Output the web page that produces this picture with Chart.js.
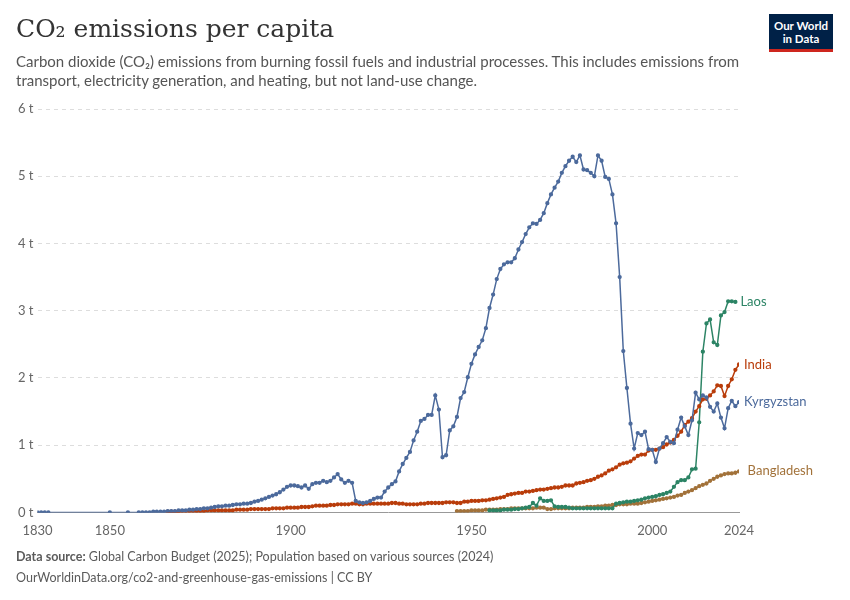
<!DOCTYPE html>
<html><head><meta charset="utf-8">
<script src="https://cdn.jsdelivr.net/npm/chart.js@4"></script>
<style>
body{margin:0;background:#fff;font-family:Lato,sans-serif;}
#wrap{position:relative;width:850px;height:600px;}
#c{position:absolute;left:0;top:0;}
.t{position:absolute;left:16px;top:14px;font-family:"DejaVu Serif",serif;font-size:25px;color:#333;}
.s{position:absolute;left:16px;top:52px;width:740px;font-size:15px;line-height:19px;color:#555;}
.f{position:absolute;left:16px;font-size:12.5px;color:#5b5b5b;}
.logo{position:absolute;left:769px;top:14px;width:64px;height:38px;background:#002147;color:#fff;font-size:11.5px;font-weight:bold;text-align:center;line-height:13px;padding-top:5px;box-sizing:border-box;border-bottom:3px solid #ce261e;}
</style></head><body>
<div id="wrap">
<canvas id="c" width="850" height="600"></canvas>
<div class="t">CO₂ emissions per capita</div>
<div class="s">Carbon dioxide (CO₂) emissions from burning fossil fuels and industrial processes. This includes emissions from transport, electricity generation, and heating, but not land-use change.</div>
<div class="logo">Our World<br>in Data</div>
<div class="f" style="top:549px"><b>Data source:</b> Global Carbon Budget (2025); Population based on various sources (2024)</div>
<div class="f" style="top:570px">OurWorldinData.org/co2-and-greenhouse-gas-emissions | CC BY</div>
</div>
<script>
const xTicks=[1830,1850,1900,1950,2000,2024];
const yTicks=[0,1,2,3,4,5,6];
const kgEarlyYears=[1830,1831,1832,1833,1850,1855];
const kgEarlyValues=[0,0,0,0,0,0];
const kgStart=1858;
const kgValues=[0,0,0,0,0.01,0.01,0.01,0.01,0.02,0.02,0.02,0.03,
0.03,0.03,0.04,0.04,0.05,0.05,0.06,0.06,0.07,0.08,
0.09,0.09,0.10,0.10,0.11,0.12,0.12,0.13,0.13,0.14,
0.16,0.17,0.19,0.21,0.23,0.25,0.27,0.30,0.34,0.38,
0.40,0.40,0.39,0.37,0.40,0.35,0.42,0.44,0.44,0.47,
0.45,0.47,0.52,0.57,0.49,0.44,0.47,0.44,0.17,0.15,
0.14,0.15,0.17,0.20,0.22,0.22,0.31,0.37,0.42,0.46,
0.61,0.72,0.81,0.90,1.07,1.20,1.36,1.39,1.45,1.45,
1.74,1.53,0.82,0.85,1.22,1.28,1.42,1.70,1.79,2.01,
2.21,2.35,2.46,2.56,2.74,3.04,3.24,3.47,3.62,3.69,
3.72,3.72,3.78,3.91,4.02,4.14,4.24,4.30,4.29,4.35,
4.45,4.60,4.73,4.83,4.92,5.05,5.15,5.23,5.29,5.21,
5.31,5.10,5.09,5.05,5.00,5.31,5.23,4.99,4.96,4.73,
4.30,3.50,2.40,1.85,1.32,0.95,1.18,1.15,1.20,0.94,
0.93,0.75,0.95,1.03,1.12,1.05,1.03,1.23,1.41,1.28,
1.15,1.37,1.78,1.68,1.74,1.71,1.57,1.50,1.62,1.41,
1.25,1.55,1.66,1.58,1.64];
const inStart=1866;
const inValues=[0.01,0.01,0.01,0.01,
0.02,0.02,0.02,0.02,0.02,0.02,0.02,0.03,0.03,0.03,
0.03,0.03,0.03,0.03,0.03,0.04,0.04,0.04,0.04,0.05,
0.05,0.05,0.05,0.05,0.05,0.06,0.06,0.06,0.06,0.07,
0.07,0.07,0.07,0.08,0.08,0.08,0.09,0.10,0.10,0.10,
0.10,0.11,0.11,0.12,0.12,0.12,0.12,0.13,0.13,0.12,
0.12,0.13,0.13,0.13,0.13,0.13,0.13,0.13,0.14,0.14,
0.13,0.13,0.12,0.12,0.12,0.12,0.13,0.13,0.14,0.14,
0.14,0.14,0.14,0.15,0.15,0.15,0.14,0.14,0.16,0.16,
0.17,0.17,0.17,0.18,0.18,0.19,0.20,0.21,0.22,0.23,
0.26,0.27,0.28,0.29,0.29,0.31,0.31,0.32,0.33,0.34,
0.34,0.35,0.36,0.37,0.37,0.38,0.40,0.40,0.40,0.43,
0.44,0.45,0.47,0.48,0.50,0.53,0.55,0.58,0.62,0.64,
0.67,0.71,0.73,0.74,0.76,0.80,0.84,0.86,0.86,0.92,
0.93,0.93,0.95,0.97,1.01,1.04,1.08,1.14,1.20,1.30,
1.35,1.40,1.50,1.58,1.68,1.69,1.74,1.80,1.89,1.88,
1.73,1.88,1.98,2.12,2.20];
const laStart=1955;
const laValues=[0.03,0.03,0.03,0.03,0.04,0.04,0.04,0.05,0.05,0.06,
0.07,0.08,0.14,0.10,0.21,0.17,0.17,0.18,0.09,0.08,
0.08,0.08,0.07,0.06,0.06,0.06,0.06,0.06,0.06,0.06,
0.06,0.06,0.06,0.06,0.06,0.13,0.14,0.15,0.16,0.16,
0.17,0.18,0.19,0.21,0.22,0.23,0.24,0.26,0.27,0.29,
0.31,0.38,0.45,0.48,0.48,0.52,0.64,0.65,1.34,2.39,
2.81,2.87,2.53,2.49,2.93,2.98,3.14,3.14,3.13];
const bdStart=1946;
const bdValues=[0.02,0.02,0.02,0.02,0.03,0.03,0.03,0.03,0.04,0.04,
0.04,0.04,0.05,0.05,0.05,0.06,0.06,0.06,0.06,0.06,
0.06,0.06,0.07,0.07,0.07,0.05,0.05,0.06,0.06,0.06,
0.06,0.06,0.07,0.07,0.07,0.07,0.08,0.08,0.08,0.09,
0.09,0.10,0.10,0.11,0.11,0.12,0.12,0.12,0.13,0.13,
0.13,0.14,0.15,0.16,0.17,0.18,0.19,0.20,0.21,0.22,
0.23,0.25,0.26,0.29,0.31,0.33,0.36,0.39,0.41,0.43,
0.47,0.50,0.53,0.55,0.57,0.58,0.58,0.59,0.61,0.62];

const seq=(s,v)=>v.map((y,i)=>({x:s+i,y}));
const kg=kgEarlyYears.map((x,i)=>({x,y:kgEarlyValues[i]})).concat(seq(kgStart,kgValues));
const C={kg:'#4c6a9c',in:'#b93d0b',la:'#2c8465',bd:'#a2723a'};
function ds(label,data,col){return {label,data,borderColor:col,backgroundColor:col,borderWidth:1.5,pointRadius:1.4,pointHoverRadius:2,tension:0};}
const labelPlugin={id:'lbl',afterDatasetsDraw(ch){
  const c=ch.ctx;c.save();c.font='13px Lato';c.textBaseline='middle';
  ch.data.datasets.forEach((d,i)=>{const m=ch.getDatasetMeta(i);const p=m.data[m.data.length-1];
    c.fillStyle=d.borderColor;c.fillText(d.label,p.x+5,p.y);});
  c.restore();}};
new Chart(document.getElementById('c'),{type:'line',
 data:{datasets:[ds('Kyrgyzstan',kg,C.kg),ds('India',seq(inStart,inValues),C.in),ds('Laos',seq(laStart,laValues),C.la),ds('Bangladesh',seq(bdStart,bdValues),C.bd)]},
 options:{responsive:false,animation:false,
  layout:{padding:{left:14,right:111,top:109,bottom:58}},
  plugins:{legend:{display:false},tooltip:{enabled:false}},
  scales:{
   x:{type:'linear',min:1830,max:2024,afterBuildTicks(a){a.ticks=xTicks.map(v=>({value:v}));},
      grid:{display:false,drawTicks:true},border:{color:'#999'},
      ticks:{color:'#666',font:{family:'Lato',size:13},maxRotation:0,autoSkip:false,callback:v=>String(v)}},
   y:{min:0,max:6,afterBuildTicks(a){a.ticks=yTicks.map(v=>({value:v}));},
      grid:{color:'#ddd',tickLength:0,drawTicks:false},border:{display:false,dash:[4,4]},
      ticks:{color:'#666',padding:4,font:{family:'Lato',size:13},callback:v=>v+' t'}}
  }},
 plugins:[labelPlugin]});
</script></body></html>
